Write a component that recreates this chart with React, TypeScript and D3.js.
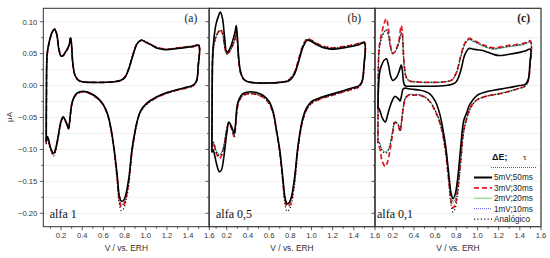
import React from "react";
import * as d3 from "d3";

// ---------- data ----------
const ANODIC_V = [0.06, 0.062, 0.068, 0.08, 0.10, 0.12, 0.14, 0.16, 0.18, 0.20,
  0.22, 0.24, 0.26, 0.28, 0.29, 0.30, 0.31, 0.33, 0.36, 0.40,
  0.50, 0.60, 0.70, 0.76, 0.80, 0.84, 0.88, 0.92, 0.96, 1.00,
  1.05, 1.10, 1.15, 1.20, 1.30, 1.40, 1.45, 1.50];
const CATHODIC_V = [1.50, 1.495, 1.48, 1.45, 1.40, 1.30, 1.20, 1.10, 1.00, 0.95,
  0.92, 0.90, 0.87, 0.84, 0.81, 0.79, 0.77, 0.75, 0.73, 0.70,
  0.67, 0.64, 0.60, 0.55, 0.50, 0.45, 0.40, 0.35, 0.32, 0.30,
  0.28, 0.27, 0.25, 0.22, 0.20, 0.17, 0.15, 0.13, 0.10, 0.08,
  0.07, 0.06];

// panel (a) alfa 1
const A5_UP = [-0.088, -0.02, 0.047, 0.062, 0.076, 0.085, 0.088, 0.080, 0.056, 0.046,
  0.047, 0.052, 0.057, 0.066, 0.075, 0.062, 0.036, 0.017, 0.009, 0.006,
  0.005, 0.005, 0.006, 0.008, 0.012, 0.026, 0.048, 0.066, 0.071, 0.068,
  0.064, 0.059, 0.057, 0.056, 0.058, 0.060, 0.061, 0.063];
const A5_DOWN = [0.063, 0.03, 0.008, 0.001, -0.002, -0.006, -0.011, -0.018, -0.029, -0.040,
  -0.055, -0.07, -0.10, -0.145, -0.172, -0.180, -0.181, -0.172, -0.14, -0.098,
  -0.066, -0.045, -0.030, -0.020, -0.014, -0.010, -0.009, -0.012, -0.019, -0.03,
  -0.058, -0.067, -0.058, -0.049, -0.056, -0.082, -0.098, -0.106, -0.097, -0.083,
  -0.08, -0.088];
const A3_UP = [-0.09, -0.02, 0.046, 0.061, 0.075, 0.085, 0.089, 0.080, 0.057, 0.047,
  0.047, 0.052, 0.057, 0.066, 0.076, 0.063, 0.037, 0.017, 0.009, 0.006,
  0.005, 0.005, 0.006, 0.008, 0.013, 0.027, 0.049, 0.066, 0.071, 0.068,
  0.064, 0.060, 0.058, 0.057, 0.059, 0.061, 0.062, 0.063];
const A3_DOWN = [0.063, 0.03, 0.007, 0.0, -0.003, -0.007, -0.012, -0.019, -0.030, -0.041,
  -0.056, -0.072, -0.103, -0.15, -0.178, -0.188, -0.190, -0.180, -0.145, -0.100,
  -0.067, -0.046, -0.031, -0.021, -0.015, -0.011, -0.010, -0.013, -0.020, -0.031,
  -0.059, -0.068, -0.059, -0.050, -0.057, -0.084, -0.100, -0.108, -0.099, -0.085,
  -0.082, -0.09];
const A2_UP = [-0.09, -0.02, 0.046, 0.061, 0.075, 0.084, 0.087, 0.079, 0.056, 0.046,
  0.047, 0.052, 0.057, 0.065, 0.074, 0.062, 0.036, 0.017, 0.009, 0.006,
  0.005, 0.005, 0.006, 0.008, 0.013, 0.027, 0.049, 0.066, 0.071, 0.068,
  0.064, 0.060, 0.058, 0.057, 0.059, 0.061, 0.062, 0.063];
const A2_DOWN = [0.063, 0.03, 0.007, 0.0, -0.003, -0.007, -0.012, -0.019, -0.030, -0.041,
  -0.056, -0.072, -0.102, -0.148, -0.176, -0.184, -0.186, -0.177, -0.143, -0.099,
  -0.067, -0.046, -0.031, -0.021, -0.015, -0.011, -0.010, -0.013, -0.020, -0.031,
  -0.058, -0.067, -0.058, -0.050, -0.057, -0.083, -0.099, -0.107, -0.098, -0.084,
  -0.081, -0.09];
const AAN_UP = [-0.092, -0.02, 0.045, 0.060, 0.074, 0.084, 0.088, 0.081, 0.058, 0.047,
  0.048, 0.053, 0.058, 0.066, 0.076, 0.064, 0.038, 0.018, 0.009, 0.006,
  0.005, 0.005, 0.006, 0.008, 0.013, 0.027, 0.050, 0.067, 0.072, 0.069,
  0.064, 0.060, 0.058, 0.057, 0.059, 0.061, 0.062, 0.064];
const AAN_DOWN = [0.064, 0.03, 0.007, 0.0, -0.003, -0.007, -0.012, -0.019, -0.031, -0.042,
  -0.057, -0.074, -0.105, -0.155, -0.183, -0.193, -0.196, -0.185, -0.148, -0.102,
  -0.068, -0.046, -0.031, -0.021, -0.015, -0.011, -0.010, -0.013, -0.020, -0.031,
  -0.059, -0.068, -0.059, -0.050, -0.057, -0.084, -0.102, -0.110, -0.100, -0.086,
  -0.083, -0.092];

// panel (b) alfa 0,5
const B5_UP = [-0.105, -0.03, 0.050, 0.075, 0.097, 0.108, 0.115, 0.105, 0.075, 0.052,
  0.055, 0.062, 0.072, 0.085, 0.094, 0.078, 0.05, 0.022, 0.010, 0.006,
  0.004, 0.004, 0.005, 0.006, 0.009, 0.018, 0.038, 0.060, 0.071, 0.069,
  0.064, 0.060, 0.058, 0.057, 0.059, 0.062, 0.064, 0.067];
const B5_DOWN = [0.067, 0.03, 0.008, 0.0, -0.003, -0.008, -0.013, -0.018, -0.025, -0.036,
  -0.05, -0.065, -0.098, -0.145, -0.175, -0.183, -0.185, -0.175, -0.145, -0.10,
  -0.07, -0.042, -0.025, -0.016, -0.012, -0.010, -0.010, -0.013, -0.02, -0.03,
  -0.065, -0.075, -0.066, -0.057, -0.075, -0.115, -0.132, -0.135, -0.12, -0.105,
  -0.1, -0.105];
const B3_UP = [-0.095, -0.02, 0.048, 0.066, 0.078, 0.084, 0.088, 0.082, 0.062, 0.050,
  0.052, 0.058, 0.065, 0.075, 0.085, 0.072, 0.045, 0.02, 0.010, 0.006,
  0.004, 0.004, 0.005, 0.007, 0.011, 0.021, 0.042, 0.063, 0.073, 0.071,
  0.066, 0.062, 0.060, 0.059, 0.061, 0.064, 0.066, 0.068];
const B3_DOWN = [0.068, 0.03, 0.007, -0.002, -0.005, -0.010, -0.015, -0.020, -0.028, -0.039,
  -0.053, -0.068, -0.102, -0.15, -0.18, -0.188, -0.190, -0.180, -0.150, -0.104,
  -0.072, -0.045, -0.028, -0.019, -0.015, -0.013, -0.013, -0.016, -0.023, -0.035,
  -0.07, -0.08, -0.07, -0.058, -0.07, -0.1, -0.11, -0.114, -0.105, -0.093,
  -0.09, -0.095];
const B2_UP = [-0.095, -0.02, 0.048, 0.065, 0.077, 0.083, 0.086, 0.081, 0.061, 0.049,
  0.051, 0.057, 0.064, 0.074, 0.083, 0.071, 0.044, 0.02, 0.010, 0.006,
  0.004, 0.004, 0.005, 0.007, 0.010, 0.020, 0.041, 0.062, 0.072, 0.070,
  0.065, 0.061, 0.059, 0.058, 0.060, 0.063, 0.065, 0.067];
const B2_DOWN = [0.067, 0.03, 0.007, -0.001, -0.004, -0.009, -0.014, -0.019, -0.027, -0.038,
  -0.052, -0.067, -0.100, -0.148, -0.177, -0.184, -0.186, -0.177, -0.147, -0.102,
  -0.071, -0.044, -0.027, -0.018, -0.014, -0.012, -0.012, -0.015, -0.022, -0.033,
  -0.068, -0.078, -0.068, -0.058, -0.068, -0.095, -0.105, -0.108, -0.102, -0.09,
  -0.088, -0.095];
const BAN_UP = [-0.096, -0.02, 0.047, 0.064, 0.076, 0.083, 0.087, 0.082, 0.062, 0.050,
  0.052, 0.057, 0.064, 0.074, 0.084, 0.072, 0.045, 0.021, 0.010, 0.006,
  0.004, 0.004, 0.005, 0.007, 0.011, 0.021, 0.042, 0.063, 0.073, 0.071,
  0.066, 0.062, 0.060, 0.059, 0.061, 0.064, 0.066, 0.068];
const BAN_DOWN = [0.068, 0.03, 0.007, -0.002, -0.005, -0.010, -0.015, -0.020, -0.028, -0.039,
  -0.054, -0.070, -0.105, -0.156, -0.186, -0.194, -0.197, -0.186, -0.152, -0.105,
  -0.072, -0.045, -0.028, -0.019, -0.015, -0.013, -0.013, -0.016, -0.023, -0.034,
  -0.069, -0.079, -0.069, -0.058, -0.069, -0.097, -0.107, -0.110, -0.104, -0.091,
  -0.089, -0.096];

// panel (c) alfa 0,1
const C5_UP = [-0.035, -0.02, 0.005, 0.024, 0.034, 0.04, 0.042, 0.032, 0.015, 0.008,
  0.010, 0.014, 0.022, 0.032, 0.025, 0.008, 0.001, -0.001, -0.001, -0.001,
  -0.001, -0.001, 0.0, 0.002, 0.006, 0.022, 0.048, 0.058, 0.057, 0.056,
  0.055, 0.052, 0.049, 0.047, 0.049, 0.052, 0.054, 0.057];
const C5_DOWN = [0.057, 0.035, 0.01, 0.002, 0.0, -0.003, -0.006, -0.009, -0.015, -0.024,
  -0.032, -0.042, -0.055, -0.10, -0.15, -0.17, -0.177, -0.168, -0.14, -0.095,
  -0.065, -0.042, -0.024, -0.013, -0.009, -0.007, -0.006, -0.005, -0.004, -0.005,
  -0.018, -0.024, -0.02, -0.017, -0.022, -0.035, -0.047, -0.057, -0.05, -0.04,
  -0.036, -0.035];
const C3_UP = [-0.09, -0.03, 0.05, 0.07, 0.085, 0.098, 0.105, 0.088, 0.062, 0.050,
  0.053, 0.060, 0.072, 0.094, 0.085, 0.055, 0.03, 0.012, 0.007, 0.006,
  0.005, 0.005, 0.006, 0.009, 0.02, 0.045, 0.066, 0.074, 0.071, 0.068,
  0.064, 0.061, 0.059, 0.060, 0.063, 0.065, 0.067, 0.07];
const C3_DOWN = [0.07, 0.03, 0.008, -0.001, -0.004, -0.009, -0.013, -0.016, -0.022, -0.03,
  -0.04, -0.05, -0.07, -0.12, -0.168, -0.186, -0.192, -0.18, -0.15, -0.105,
  -0.075, -0.056, -0.04, -0.025, -0.018, -0.015, -0.015, -0.015, -0.02, -0.035,
  -0.062, -0.072, -0.062, -0.058, -0.075, -0.105, -0.12, -0.127, -0.118, -0.1,
  -0.095, -0.09];
const C2_UP = [-0.088, -0.03, 0.048, 0.066, 0.078, 0.084, 0.087, 0.078, 0.058, 0.050,
  0.052, 0.058, 0.068, 0.082, 0.078, 0.05, 0.028, 0.012, 0.007, 0.006,
  0.005, 0.005, 0.006, 0.009, 0.019, 0.043, 0.064, 0.072, 0.069, 0.066,
  0.062, 0.059, 0.057, 0.058, 0.061, 0.063, 0.065, 0.068];
const C2_DOWN = [0.068, 0.03, 0.008, -0.001, -0.004, -0.009, -0.013, -0.016, -0.022, -0.03,
  -0.04, -0.05, -0.07, -0.118, -0.164, -0.178, -0.182, -0.172, -0.145, -0.102,
  -0.073, -0.054, -0.038, -0.024, -0.017, -0.014, -0.014, -0.014, -0.019, -0.033,
  -0.06, -0.07, -0.06, -0.056, -0.07, -0.095, -0.102, -0.104, -0.1, -0.092,
  -0.088, -0.088];
const CAN_UP = [-0.09, -0.03, 0.047, 0.065, 0.077, 0.084, 0.088, 0.079, 0.059, 0.051,
  0.053, 0.059, 0.069, 0.083, 0.079, 0.051, 0.029, 0.012, 0.007, 0.006,
  0.005, 0.005, 0.006, 0.009, 0.02, 0.044, 0.065, 0.073, 0.070, 0.067,
  0.063, 0.060, 0.058, 0.059, 0.062, 0.064, 0.066, 0.069];
const CAN_DOWN = [0.069, 0.03, 0.008, -0.001, -0.004, -0.009, -0.013, -0.016, -0.022, -0.031,
  -0.041, -0.052, -0.074, -0.125, -0.175, -0.192, -0.198, -0.186, -0.152, -0.106,
  -0.075, -0.055, -0.039, -0.025, -0.018, -0.015, -0.015, -0.015, -0.02, -0.034,
  -0.061, -0.071, -0.061, -0.057, -0.071, -0.097, -0.104, -0.106, -0.102, -0.093,
  -0.089, -0.09];

const PANEL_TAGS = ["(a)", "(b)", "(c)"];
const PANEL_ALFA = ["alfa 1", "alfa 0,5", "alfa 0,1"];
const LEGEND_LABELS = ["5mV;50ms", "3mV;30ms", "2mV;20ms", "1mV;10ms", "Analógico"];
const X_TICKS = [0.2, 0.4, 0.6, 0.8, 1.0, 1.2, 1.4, 1.6];
const X_MINOR = [0.1, 0.3, 0.5, 0.7, 0.9, 1.1, 1.3, 1.5];
const Y_TICKS = [-0.2, -0.15, -0.1, -0.05, 0.0, 0.05, 0.1];
const Y_MINOR = [-0.175, -0.125, -0.075, -0.025, 0.025, 0.075];
const X_DOMAIN = [0.0325, 1.6];
const Y_DOMAIN = [-0.221, 0.121];

// series per panel: order = 5mV, 3mV, 2mV, 1mV, analog
const PANEL_DATA = [
  [[A5_UP, A5_DOWN], [A3_UP, A3_DOWN], [A2_UP, A2_DOWN], [A2_UP, A2_DOWN], [AAN_UP, AAN_DOWN]],
  [[B5_UP, B5_DOWN], [B3_UP, B3_DOWN], [B2_UP, B2_DOWN], [B2_UP, B2_DOWN], [BAN_UP, BAN_DOWN]],
  [[C5_UP, C5_DOWN], [C3_UP, C3_DOWN], [C2_UP, C2_DOWN], [C2_UP, C2_DOWN], [CAN_UP, CAN_DOWN]],
];

// ---------- styles ----------
const STYLES = [
  { stroke: "#000000", width: 1.6, dash: "none" },
  { stroke: "#e8161e", width: 1.7, dash: "5,3" },
  { stroke: "#5fcf5f", width: 0.8, dash: "none" },
  { stroke: "#2a2ad8", width: 0.8, dash: "1,1" },
  { stroke: "#111111", width: 1.3, dash: "1.1,2.3" },
];
const DRAW_ORDER = [2, 3, 1, 4, 0];

const W = 550, H = 258;
const TOP = 8.3, BOTTOM = 226.7;
const LEFTS = [43.3, 209, 375];
const PW = 166;
const SANS = "'Liberation Sans', Arial, sans-serif";
const SERIF = "'Liberation Serif', 'Times New Roman', serif";

export default function App() {
  const y = d3.scaleLinear().domain(Y_DOMAIN).range([BOTTOM, TOP]);
  const fmtY = d3.format(".2f");
  const fmtX = d3.format(".1f");
  const gridVals = [...Y_TICKS, ...Y_MINOR];

  return (
    <svg width={W} height={H} viewBox={`0 0 ${W} ${H}`}
      style={{ position: "fixed", left: 0, top: 0, background: "#fff" }}>
      <rect x={0} y={0} width={W} height={H} fill="#fff" />
      {LEFTS.map((left, pi) => {
        const x = d3.scaleLinear().domain(X_DOMAIN).range([left, left + PW]);
        const line = d3.line<[number, number]>()
          .x((d) => x(d[0])).y((d) => y(d[1]))
          .curve(d3.curveCatmullRom.alpha(0.5));
        const series = PANEL_DATA[pi];
        return (
          <g key={pi}>
            {gridVals.map((v, i) => (
              <line key={"g" + i} x1={left} x2={left + PW} y1={y(v)} y2={y(v)}
                stroke="#e9e9e9" strokeWidth={0.7} />
            ))}
            <defs>
              <clipPath id={"clip" + pi}>
                <rect x={left} y={TOP} width={PW} height={BOTTOM - TOP} />
              </clipPath>
            </defs>
            <g clipPath={`url(#clip${pi})`}>
              {DRAW_ORDER.map((si) => {
                const [up, down] = series[si];
                const pts: [number, number][] = [
                  ...ANODIC_V.map((v, i) => [v, up[i]] as [number, number]),
                  ...CATHODIC_V.slice(1).map((v, i) => [v, down[i + 1]] as [number, number]),
                ];
                pts.push(pts[0]);
                const st = STYLES[si];
                return (
                  <path key={si} d={line(pts) || ""} fill="none" stroke={st.stroke}
                    strokeWidth={st.width} strokeDasharray={st.dash}
                    strokeLinejoin="round" />
                );
              })}
            </g>
            {/* box */}
            <rect x={left} y={TOP} width={PW} height={BOTTOM - TOP} fill="none"
              stroke="#333" strokeWidth={pi === 0 ? 1 : 1.2} />
            {/* y ticks */}
            {Y_TICKS.map((v, i) => (
              <line key={"yt" + i} x1={left - 3.5} x2={left} y1={y(v)} y2={y(v)} stroke="#333" strokeWidth={0.8} />
            ))}
            {Y_MINOR.map((v, i) => (
              <line key={"ym" + i} x1={left - 2} x2={left} y1={y(v)} y2={y(v)} stroke="#333" strokeWidth={0.8} />
            ))}
            {pi === 0 && Y_TICKS.map((v, i) => (
              <text key={"yl" + i} x={left - 6} y={y(v) + 2.8} fontFamily={SANS} fontSize={7.6}
                fill="#333" textAnchor="end">{fmtY(v)}</text>
            ))}
            {/* x ticks */}
            {X_TICKS.map((v, i) => (
              <line key={"xt" + i} x1={x(v)} x2={x(v)} y1={BOTTOM} y2={BOTTOM + 3.5} stroke="#333" strokeWidth={0.8} />
            ))}
            {X_MINOR.map((v, i) => (
              <line key={"xm" + i} x1={x(v)} x2={x(v)} y1={BOTTOM} y2={BOTTOM + 2} stroke="#333" strokeWidth={0.8} />
            ))}
            {X_TICKS.map((v, i) => (
              <text key={"xl" + i} x={x(v)} y={237.8} fontFamily={SANS} fontSize={7.6}
                fill="#333" textAnchor="middle">{fmtX(v)}</text>
            ))}
            <text x={left + PW / 2} y={251} fontFamily={SANS} fontSize={8.4} fill="#333"
              textAnchor="middle">V / vs. ERH</text>
            <text x={left + PW - (pi === 0 ? 12 : pi === 1 ? 14 : 11)} y={21.5} fontFamily={SERIF}
              fontSize={11.5} fontWeight={pi === 2 ? "bold" : "normal"} fill="#222"
              textAnchor="end">{PANEL_TAGS[pi]}</text>
            <text x={left + (pi === 0 ? 6.5 : pi === 1 ? 7 : 2)} y={217.5} fontFamily={SERIF}
              fontSize={12} fill="#111">{PANEL_ALFA[pi]}</text>
          </g>
        );
      })}
      {/* y label */}
      <text transform="translate(12,117) rotate(-90)" fontFamily={SANS} fontSize={8}
        fill="#333" textAnchor="middle">μA</text>
      {/* legend */}
      <g>
        <text x={492} y={160} fontFamily={SANS} fontSize={9} fontWeight="bold" fill="#111">ΔE;</text>
        <text x={523} y={160} fontFamily={SERIF} fontSize={9} fill="#111">τ</text>
        <line x1={491} x2={536} y1={167.5} y2={167.5} stroke="#333" strokeWidth={0.8} strokeDasharray="1,1" />
        {LEGEND_LABELS.map((lab, i) => {
          const cy = 177.5 + i * 10.4;
          const st = STYLES[i];
          return (
            <g key={i}>
              <line x1={474} x2={492} y1={cy} y2={cy} stroke={st.stroke}
                strokeWidth={i === 0 ? 2 : st.width} strokeDasharray={st.dash} />
              <text x={494} y={cy + 2.9} fontFamily={SANS} fontSize={8.2} fill="#222">{lab}</text>
            </g>
          );
        })}
      </g>
    </svg>
  );
}
